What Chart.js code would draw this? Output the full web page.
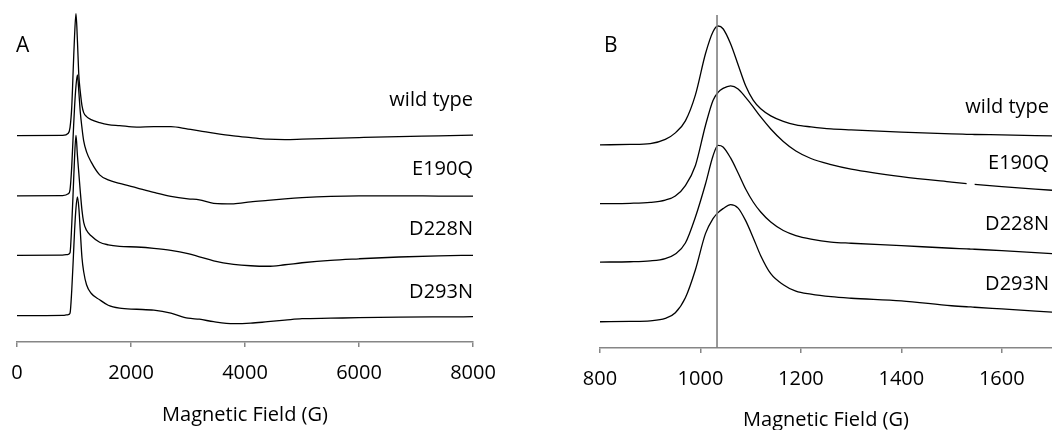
<!DOCTYPE html>
<html>
<head>
<meta charset="utf-8">
<script src="https://cdn.jsdelivr.net/npm/chart.js@4/dist/chart.umd.min.js"></script>
<style>
  html, body { margin: 0; padding: 0; background: #fff; }
  #wrap { position: relative; width: 1052px; height: 430px; overflow: hidden; }
  .panel { position: absolute; top: 0; height: 430px; }
  #panelA { left: 0; width: 500px; }
  #panelB { left: 540px; width: 512px; }
</style>
</head>
<body>
<div id="wrap">
  <div class="panel" id="panelA"><canvas id="chartA"></canvas></div>
  <div class="panel" id="panelB"><canvas id="chartB"></canvas></div>
</div>
<script>
// series names, top to bottom
const seriesNames = ['wild type', 'E190Q', 'D228N', 'D293N'];

// Panel A: full sweep, field in gauss, signal in arbitrary units
const fieldA = [0, 800, 900, 930, 960, 990, 1010, 1035, 1060, 1085,
    1110, 1140, 1170, 1220, 1300, 1450, 1600, 1800, 2100, 2400,
    2700, 3000, 3200, 3450, 3800, 4100, 4400, 4700, 5000, 5500,
    6000, 6700, 7400, 8000];
const wildTypeA = [0, 0.3, 2.4, 8, 28, 72, 100, 122, 95, 60,
    44, 30, 23, 19, 16, 13, 11, 10, 8.5, 9,
    9, 6.5, 4.8, 2.5, -0.3, -2, -3.6, -4, -3.6, -2.8,
    -2, -1, -0.3, 0.4];
const e190qA = [0, 0.3, 2, 6, 29, 66, 89, 110, 121, 104,
    84, 68, 55, 44, 34, 21, 16, 12.5, 8, 3.5,
    -0.5, -3, -4, -7.5, -8, -6, -4.5, -3, -1.8, -0.5,
    0, 0, -0.2, -0.3];
const d228nA = [0, 0.2, 1, 2.5, 30, 70, 98, 120, 100, 82,
    64, 45, 33, 25, 19.5, 13, 10.5, 9, 8.3, 7,
    5, 1.7, -1.5, -5.5, -9, -10.5, -11, -9.5, -7.5, -5,
    -3.5, -1.7, -0.5, 0];
const d293nA = [0, 0.3, 1.2, 2.5, 25, 60, 85, 108, 119, 108,
    85, 58, 44, 31, 22.5, 16, 10.5, 7.5, 6.5, 5.5,
    2.5, -2.5, -3.5, -6, -8, -7.5, -6, -4.5, -3, -2.5,
    -2, -1.5, -1.2, -1];
const offsetsA = [180.3, 120, 60.5, 0];
const labelLevelsA = [210, 141, 81, 17.7];
const ticksA = { min: 0, max: 8000, step: 2000 };

// Panel B: zoom on the low-field peak
const fieldB = [800, 860, 900, 930, 950, 970, 990, 1010, 1025, 1035,
    1045, 1060, 1075, 1090, 1105, 1120, 1140, 1165, 1190, 1220,
    1260, 1300, 1400, 1500, 1530, 1538, 1546, 1600, 1700];
const wildTypeB = [0, 0.5, 1.3, 5.5, 12, 24, 50, 91, 113, 118.7,
    116, 101, 80, 59, 44.7, 36, 29, 23.5, 20, 18,
    16, 15, 12.8, 11, 10.6, 10.5, 10.4, 10, 9];
const e190qB = [0, 0.3, 1.2, 3.5, 7.5, 18, 38, 78, 103, 111,
    115, 117.6, 114.5, 106, 96.6, 86.5, 74.5, 62, 52.5, 45,
    39, 34.5, 27, 21.5, 20, null, 19.2, 17, 13.3];
const d228nB = [0, 0.3, 1.2, 3.5, 8, 19, 45, 78, 106, 116.5,
    115, 104, 89, 73, 60, 50, 40, 31.5, 26.5, 23,
    20, 18.8, 16.4, 13.8, 13.2, 13, 12.8, 11.5, 8.4];
const d293nB = [0, 0.3, 0.9, 3.3, 9, 24, 52, 88, 103, 109,
    113, 117, 113.5, 101, 84, 66, 48, 37, 30.5, 27.5,
    25, 23.5, 20.8, 16, 15, 14.8, 14.5, 12.8, 9.6];
const offsetsB = [176.6, 118, 59.6, 0];
const labelLevelsB = [208.6, 152.3, 91.3, 31.3];
const ticksB = { min: 800, max: 1700, step: 200 };
const markerField = 1033;

const FONT = "'Open Sans', sans-serif";
const AXIS_GRAY = '#868686';

function makeTrace(field, signal, offset) {
    return {
        data: field.map((x, i) => ({ x: x, y: signal[i] === null ? null : signal[i] + offset })),
        borderColor: '#000',
        borderWidth: 1.3,
        pointRadius: 0,
        fill: false,
        spanGaps: false,
        cubicInterpolationMode: 'monotone'
    };
}

// letters and series labels
const panelText = {
    id: 'panelText',
    afterDraw(chart, args, opts) {
        const ctx = chart.ctx;
        const yScale = chart.scales.y;
        ctx.save();
        ctx.fillStyle = '#000';
        ctx.textBaseline = 'alphabetic';
        ctx.font = '21px ' + FONT;
        ctx.textAlign = 'left';
        ctx.fillText(opts.letter, opts.letterX, opts.letterY);
        ctx.font = '20px ' + FONT;
        ctx.textAlign = 'right';
        opts.names.forEach(function (name, i) {
            ctx.fillText(name, chart.chartArea.right - opts.inset, yScale.getPixelForValue(opts.levels[i]));
        });
        ctx.restore();
    }
};

function buildChart(id, cfg) {
    return new Chart(document.getElementById(id), {
        type: 'line',
        data: { datasets: cfg.datasets },
        options: {
            responsive: true,
            maintainAspectRatio: false,
            animation: false,
            layout: { padding: cfg.padding },
            scales: {
                x: {
                    type: 'linear',
                    min: cfg.ticks.min,
                    max: cfg.ticks.max,
                    afterFit: function (scale) {
                        // keep the plot edges where the layout padding puts them
                        scale.height = cfg.axisHeight;
                        scale.paddingLeft = 0;
                        scale.paddingRight = 0;
                    },
                    border: { display: true, color: AXIS_GRAY, width: 1.5 },
                    grid: { drawOnChartArea: false, drawTicks: true, tickLength: 5, color: AXIS_GRAY, lineWidth: 1.5 },
                    ticks: {
                        stepSize: cfg.ticks.step,
                        includeBounds: false,
                        autoSkip: false,
                        maxRotation: 0,
                        padding: 14,
                        color: '#000',
                        font: { family: FONT, size: 20 },
                        callback: function (v) { return String(v); }
                    },
                    title: {
                        display: true,
                        text: 'Magnetic Field (G)',
                        color: '#000',
                        font: { family: FONT, size: 20, lineHeight: cfg.titleLine },
                        padding: { top: 0, bottom: cfg.titlePad }
                    }
                },
                y: { display: false, min: cfg.yMin, max: cfg.yMax }
            },
            plugins: {
                legend: { display: false },
                tooltip: { enabled: false },
                panelText: cfg.text
            }
        },
        plugins: [panelText]
    });
}

buildChart('chartA', {
    datasets: [
        makeTrace(fieldA, wildTypeA, offsetsA[0]),
        makeTrace(fieldA, e190qA, offsetsA[1]),
        makeTrace(fieldA, d228nA, offsetsA[2]),
        makeTrace(fieldA, d293nA, offsetsA[3])
    ],
    padding: { left: 17, right: 27, top: 10, bottom: 0 },
    ticks: ticksA,
    axisHeight: 88,
    titleLine: 1.2,
    titlePad: 3,
    yMin: -26.3,
    yMax: 306,
    text: { letter: 'A', letterX: 16, letterY: 52, names: seriesNames, levels: labelLevelsA, inset: 0 }
});

const markerLine = {
    data: [{ x: markerField, y: -26.2 }, { x: markerField, y: 306.3 }],
    borderColor: '#7f7f7f',
    borderWidth: 1.6,
    pointRadius: 0,
    fill: false
};

buildChart('chartB', {
    datasets: [
        markerLine,
        makeTrace(fieldB, wildTypeB, offsetsB[0]),
        makeTrace(fieldB, e190qB, offsetsB[1]),
        makeTrace(fieldB, d228nB, offsetsB[2]),
        makeTrace(fieldB, d293nB, offsetsB[3])
    ],
    padding: { left: 60, right: 0, top: 10, bottom: 0 },
    ticks: ticksB,
    axisHeight: 82,
    titleLine: 1.0,
    titlePad: 0,
    yMin: -26.2,
    yMax: 311.3,
    text: { letter: 'B', letterX: 64, letterY: 52, names: seriesNames, levels: labelLevelsB, inset: 3 }
});
</script>
</body>
</html>
